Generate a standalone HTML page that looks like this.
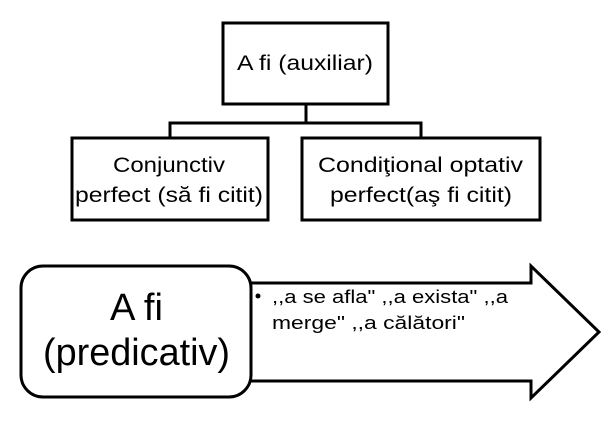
<!DOCTYPE html>
<html><head><meta charset="utf-8"><style>
body{margin:0;background:#fff;width:614px;height:438px;overflow:hidden}
</style></head><body>
<svg width="614" height="438" xmlns="http://www.w3.org/2000/svg" font-family="Liberation Sans, DejaVu Sans, sans-serif">
<g fill="none" stroke="#000" stroke-width="3">
<rect x="223" y="23" width="165" height="81" fill="#fff"/>
<path d="M306 104V123M170 138V123H421V138"/>
<rect x="72" y="138" width="196" height="82" fill="#fff"/>
<rect x="302" y="138" width="238" height="82" fill="#fff"/>
<path d="M230 283H531V266L599 332L531 398V381H230Z" fill="#fff"/>
<rect x="21" y="266" width="230" height="131" rx="22" fill="#fff"/>
</g>
<g font-size="21" fill="#000" lengthAdjust="spacingAndGlyphs">
<text x="237" y="70" textLength="136" lengthAdjust="spacingAndGlyphs">A fi (auxiliar)</text>
<text x="113" y="172" textLength="112" lengthAdjust="spacingAndGlyphs">Conjunctiv</text>
<text x="75" y="202" textLength="188" lengthAdjust="spacingAndGlyphs">perfect  (să fi citit)</text>
<text x="318" y="172" textLength="205" lengthAdjust="spacingAndGlyphs">Condiţional optativ</text>
<text x="330" y="202" textLength="182" lengthAdjust="spacingAndGlyphs">perfect(aş fi citit)</text>
<text x="110" y="320" font-size="38" textLength="53" lengthAdjust="spacingAndGlyphs">A fi</text>
<text x="43" y="365" font-size="38" textLength="187" lengthAdjust="spacingAndGlyphs">(predicativ)</text>
</g>
<g font-size="18" fill="#000">
<circle cx="258" cy="296" r="2.5"/>
<text x="272" y="303" textLength="236" lengthAdjust="spacingAndGlyphs">,,a se afla" ,,a exista" ,,a</text>
<text x="272" y="329" textLength="193" lengthAdjust="spacingAndGlyphs">merge" ,,a călători"</text>
</g>
</svg>
</body></html>
